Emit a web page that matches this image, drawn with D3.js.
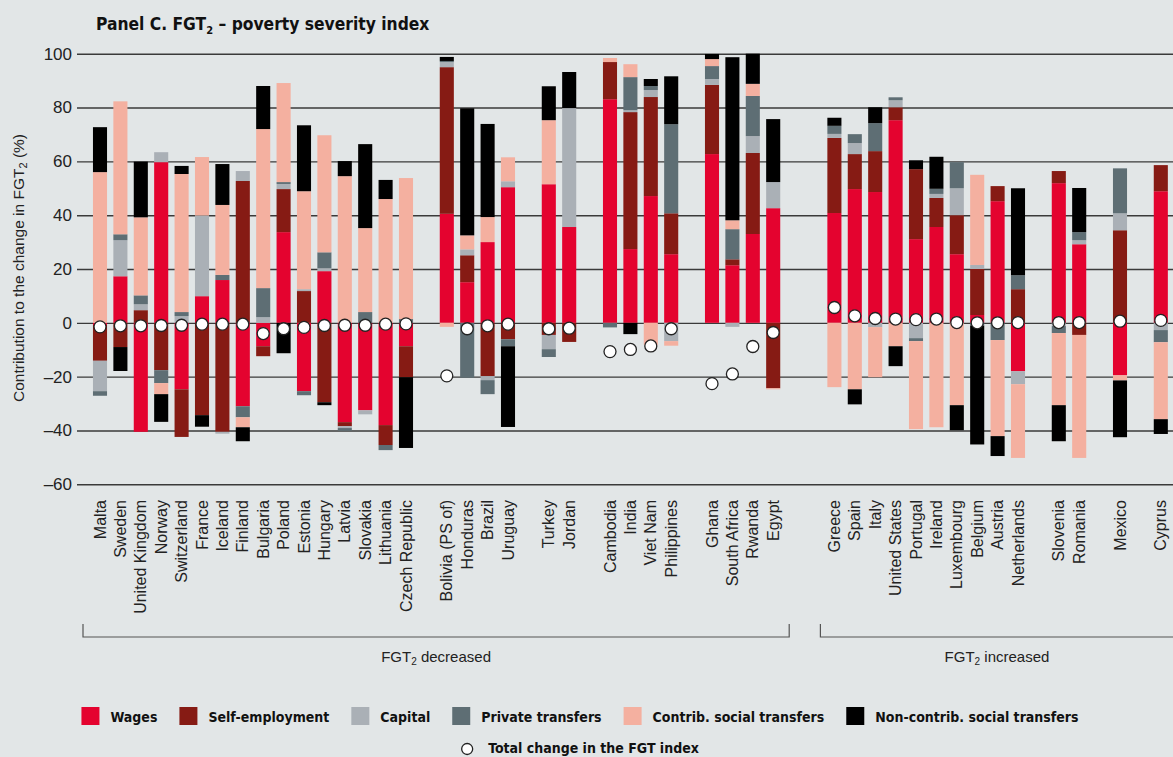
<!DOCTYPE html>
<html>
<head>
<meta charset="utf-8">
<script src="https://cdn.jsdelivr.net/npm/d3@7"></script>
<style>
  html, body { margin: 0; padding: 0; background: #e2e6e7; }
  svg { display: block; }
  .narrow { font-family: "Liberation Sans Narrow", "Arial Narrow", "DejaVu Sans Condensed", sans-serif; }
  .reg { font-family: "Liberation Sans", Arial, sans-serif; }
</style>
</head>
<body>
<svg id="chart" width="1173" height="757"></svg>
<script>
// countries, left to right
var countries = ["Malta","Sweden","United Kingdom","Norway","Switzerland","France","Iceland","Finland",
  "Bulgaria","Poland","Estonia","Hungary","Latvia","Slovakia","Lithuania","Czech Republic",
  "Bolivia (PS of)","Honduras","Brazil","Uruguay",
  "Turkey","Jordan",
  "Cambodia","India","Viet Nam","Philippines",
  "Ghana","South Africa","Rwanda","Egypt",
  "Greece","Spain","Italy","United States","Portugal","Ireland","Luxembourg","Belgium","Austria","Netherlands",
  "Slovenia","Romania","Mexico","Cyprus"];
var groupSizes = [16,4,2,4,4,10,2,1,1];
var gapAfter = [1,1,1,1,2,1,1,1];   // empty slots after each group
var decreasedCount = 30;            // first 30 countries: FGT2 decreased

var wages = [-0.8,17.3,-40.5,59.7,-24.7,9.9,15.9,-31.0,-8.7,33.7,-25.4,19.2,-36.9,-32.5,-38.0,-8.7,
  40.5,15.1,30.0,50.4, 51.5,35.6, 83.1,27.4,47.1,25.5, 62.7,21.4,33.0,42.6,
  40.8,49.7,48.6,75.3,31.1,35.6,25.5,2.9,45.2,-18.0, 51.9,29.2,-19.5,48.9];
var selfEmp = [-13.3,-9.0,4.7,-17.6,-17.7,-34.3,-40.5,52.7,-3.7,16.0,11.8,-29.5,-1.5,0,-7.4,-11.5,
  54.5,10.0,-19.8,-6.1, -4.5,-7.1, 13.8,50.9,36.8,15.2, 25.7,2.2,30.1,-24.3,
  27.9,13.0,15.2,4.8,26.0,10.8,14.5,17.1,5.6,12.5, 4.5,-4.5,34.4,9.7];
var capital = [-11.3,13.4,2.2,3.7,2.5,30.0,-0.7,3.7,2.1,1.9,0.7,1.1,-0.7,-1.5,0,0,
  1.9,2.2,-1.5,2.2, -5.3,44.2, 0,0.7,2.6,-6.8, 2.2,-1.5,6.3,9.7,
  1.5,4.1,-1.6,2.6,-5.7,1.5,10.0,1.5,0,-4.8, -1.2,1.5,6.3,-2.7];
var privateTr = [-1.7,2.2,3.3,-4.8,1.5,0,1.9,-4.1,10.8,0.7,-1.5,5.9,-1.0,4.0,-1.9,1.4,
  0.4,-20.4,-5.2,-2.6, -2.9,0, -1.7,12.3,1.5,33.1, 4.8,11.2,14.9,0,
  3.0,3.3,10.4,1.1,-1.1,1.9,9.7,-1.0,-6.4,5.2, -2.6,3.0,16.7,-4.5];
var contrib = [56.0,49.4,29.0,-4.1,51.3,21.7,26.0,-3.7,59.1,36.8,36.4,43.5,54.5,31.2,46.0,52.4,
  -1.5,5.2,9.3,8.9, 23.8,0, 1.5,4.8,-8.2,-1.7, 2.6,3.3,4.5,-0.4,
  -23.9,-24.7,-18.6,-8.7,-32.7,-38.8,-30.6,33.5,-35.7,-27.4, -26.8,-45.7,-1.9,-28.6];
var nonContrib = [16.7,-8.9,20.7,-10.3,3.0,-4.3,15.2,-5.2,16.0,-11.3,24.5,-1.1,5.6,31.2,7.1,-26.3,
  1.5,47.2,34.6,-30.0, 12.6,13.4, 0,-4.2,2.6,17.8, 1.9,60.6,11.2,23.4,
  3.0,-5.6,5.9,-7.4,3.3,11.9,-9.3,-44.2,-7.4,32.3, -13.4,16.4,-21.1,-5.5];
var totalChange = [-1.5,-1.1,-1.1,-1.0,-0.9,-0.5,-0.5,-0.5,-4.0,-2.2,-1.7,-1.0,-0.9,-0.9,-0.5,-0.4,
  -19.7,-2.2,-1.1,-0.5, -2.2,-2.0, -10.7,-9.9,-8.6,-2.2, -22.6,-19.0,-8.8,-3.6,
  5.7,2.6,1.6,1.4,1.2,1.4,0.1,0.0,0.0,0.1, 0.1,0.1,0.6,0.9];

var seriesNames = ["Wages","Self-employment","Capital","Private transfers","Contrib. social transfers","Non-contrib. social transfers"];
var seriesValues = [wages, selfEmp, capital, privateTr, contrib, nonContrib];
var colors = ["#e4032f","#861b14","#aab0b6","#5e6e74","#f4b0a0","#000000"];
var yTicks = [-60,-40,-20,0,20,40,60,80,100];

var svg = d3.select("#chart");

// build the slot domain with empty spacer slots between groups
var domain = [], k = 0;
groupSizes.forEach(function(n, g){
  for (var i = 0; i < n; i++) domain.push(countries[k++]);
  if (g < gapAfter.length) for (var j = 0; j < gapAfter[g]; j++) domain.push("gap" + g + "_" + j);
});

var step = 20.4;
var x = d3.scaleBand().domain(domain)
  .range([89.8, 89.8 + domain.length * step])
  .paddingInner(0.31).paddingOuter(0.155);
var y = d3.scaleLinear().domain([-60, 100]).range([484.3, 53.7]);

// table for stacking
var rows = countries.map(function(c, i){
  var r = { country: c, total: totalChange[i] };
  seriesNames.forEach(function(s, j){ r[s] = seriesValues[j][i]; });
  return r;
});
var stack = d3.stack().keys(seriesNames).offset(d3.stackOffsetDiverging);
var stacked = stack(rows);

// gridlines + tick labels
var yAxis = d3.axisLeft(y).tickValues(yTicks).tickSize(-(1173 - 77)).tickPadding(6)
  .tickFormat(function(d){ return d < 0 ? "\u2013" + Math.abs(d) : d; });
var gy = svg.append("g").attr("transform", "translate(77,0)").call(yAxis);
gy.select(".domain").remove();
gy.selectAll(".tick line").attr("stroke", "#3a3a3a").attr("stroke-width", 1.4);
gy.selectAll(".tick text").attr("class", "reg").attr("font-size", 17).attr("fill", "#222")
  .attr("x", -5);

// bars
svg.append("g").selectAll("g").data(stacked).join("g")
  .attr("fill", function(d, i){ return colors[i]; })
  .selectAll("rect").data(function(d){ return d; }).join("rect")
  .attr("x", function(d){ return x(d.data.country); })
  .attr("width", x.bandwidth())
  .attr("y", function(d){ return y(Math.max(d[0], d[1])); })
  .attr("height", function(d){ return Math.abs(y(d[0]) - y(d[1])); });

// total change dots
svg.append("g").selectAll("circle").data(rows).join("circle")
  .attr("cx", function(d){ return x(d.country) + x.bandwidth() / 2; })
  .attr("cy", function(d){ return y(d.total); })
  .attr("r", 6).attr("fill", "#fff").attr("stroke", "#222").attr("stroke-width", 1.3);

// country labels
svg.append("g").selectAll("text").data(countries).join("text")
  .attr("class", "reg").attr("font-size", 16).attr("fill", "#222")
  .attr("text-anchor", "end")
  .attr("transform", function(d){ return "translate(" + (x(d) + x.bandwidth() / 2) + ",500) rotate(-90)"; })
  .attr("dy", "0.35em")
  .text(function(d){ return d; });

// title
var title = svg.append("text").attr("class", "narrow").attr("x", 96).attr("y", 30)
  .attr("font-size", 17.3).attr("font-weight", "bold").attr("fill", "#111");
title.append("tspan").text("Panel C.  FGT");
title.append("tspan").attr("font-size", 11).attr("dy", 4).text("2");
title.append("tspan").attr("dy", -4).text(" \u2013 poverty severity index");

// y axis title
var yt = svg.append("text").attr("class", "reg").attr("font-size", 15.5).attr("fill", "#222")
  .attr("text-anchor", "middle").attr("transform", "translate(24,268) rotate(-90)");
yt.append("tspan").text("Contribution to the change in FGT");
yt.append("tspan").attr("font-size", 11).attr("dy", 3).text("2");
yt.append("tspan").attr("dy", -3).text(" (%)");

// group brackets
function bracket(x0, x1, label, labelX){
  var g = svg.append("g");
  g.append("path").attr("d", "M" + x0 + ",624V637H" + x1 + "V624")
    .attr("fill", "none").attr("stroke", "#555").attr("stroke-width", 1.2);
  var t = g.append("text").attr("class", "reg").attr("font-size", 15).attr("fill", "#222")
    .attr("text-anchor", "middle").attr("x", labelX).attr("y", 662);
  t.append("tspan").text("FGT");
  t.append("tspan").attr("font-size", 10).attr("dy", 3).text("2");
  t.append("tspan").attr("dy", -3).text(" " + label);
}
var firstC = x(countries[0]) + x.bandwidth() / 2;
var lastDec = x(countries[decreasedCount - 1]) + x.bandwidth() / 2;
var firstInc = x(countries[decreasedCount]) + x.bandwidth() / 2;
bracket(firstC - 17, lastDec + 16, "decreased", (firstC - 17 + lastDec + 16) / 2);
bracket(firstInc - 14, 1180, "increased", 997);

// legend
var leg = svg.append("g");
var lx = 0;
seriesNames.forEach(function(s, i){
  leg.append("rect").attr("x", lx).attr("y", 707).attr("width", 18).attr("height", 18).attr("fill", colors[i]);
  var t = leg.append("text").attr("class", "narrow").attr("x", lx + 29).attr("y", 722)
    .attr("font-size", 14).attr("font-weight", "bold").attr("fill", "#111").text(s);
  lx += 29 + t.node().getComputedTextLength() + 22;
});
lx -= 22;
leg.attr("transform", "translate(" + (580 - lx / 2) + ",0)");

var leg2 = svg.append("g");
leg2.append("circle").attr("cx", 6).attr("cy", 749).attr("r", 5.5)
  .attr("fill", "#fff").attr("stroke", "#222").attr("stroke-width", 1.3);
var t2 = leg2.append("text").attr("class", "narrow").attr("x", 27).attr("y", 753)
  .attr("font-size", 14).attr("font-weight", "bold").attr("fill", "#111").text("Total change in the FGT index");
var w2 = 27 + t2.node().getComputedTextLength();
leg2.attr("transform", "translate(" + (580 - w2 / 2) + ",0)");
</script>
</body>
</html>
